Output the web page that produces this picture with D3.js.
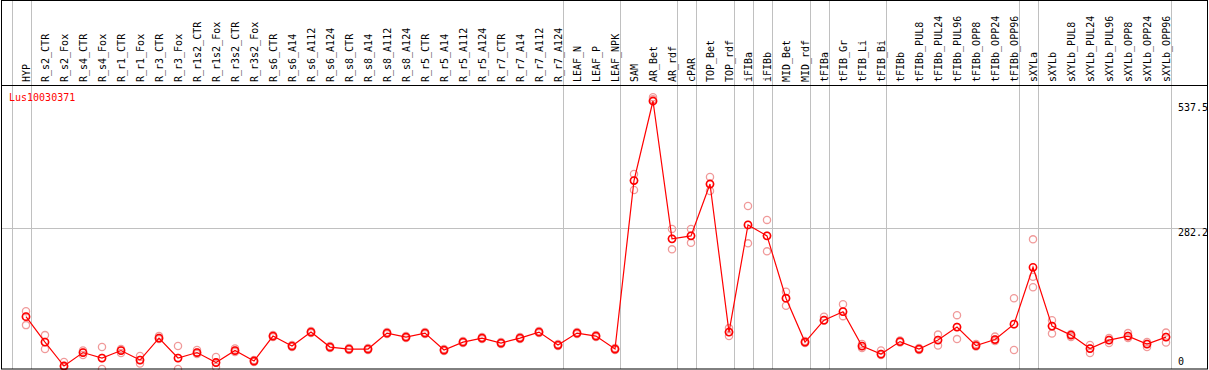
<!DOCTYPE html>
<html>
<head>
<meta charset="utf-8">
<script src="https://cdn.jsdelivr.net/npm/d3@7"></script>
<style>
  html, body { margin: 0; padding: 0; background: #fff; }
  svg { display: block; }
  text { font-family: "DejaVu Sans Mono", "Liberation Mono", monospace; font-size: 10px; }
</style>
</head>
<body>
<svg id="chart" width="1209" height="370"></svg>
<script>
const categories = ["HYP","R_s2_CTR","R_s2_Fox","R_s4_CTR","R_s4_Fox","R_r1_CTR","R_r1_Fox","R_r3_CTR","R_r3_Fox","R_r1s2_CTR","R_r1s2_Fox","R_r3s2_CTR","R_r3s2_Fox","R_s6_CTR","R_s6_A14","R_s6_A112","R_s6_A124","R_s8_CTR","R_s8_A14","R_s8_A112","R_s8_A124","R_r5_CTR","R_r5_A14","R_r5_A112","R_r5_A124","R_r7_CTR","R_r7_A14","R_r7_A112","R_r7_A124","LEAF_N","LEAF_P","LEAF_NPK","SAM","AR_Bet","AR_rdf","cPAR","TOP_Bet","TOP_rdf","iFIBa","iFIBb","MID_Bet","MID_rdf","tFIBa","tFIB_Gr","tFIB_Li","tFIB_Bi","tFIBb","tFIBb_PUL8","tFIBb_PUL24","tFIBb_PUL96","tFIBb_OPP8","tFIBb_OPP24","tFIBb_OPP96","sXYLa","sXYLb","sXYLb_PUL8","sXYLb_PUL24","sXYLb_PUL96","sXYLb_OPP8","sXYLb_OPP24","sXYLb_OPP96"];

const meanValues = [105,54,6,33,22,37,18,62,22,33,13,37,16,66,46,74,44,40,40,72,64,72,38,54,62,52,62,74,48,72,66,40,378,537.5,261,267,371,74,289,267,142,54,98,115,46,30,55,40,58,84,47,59,90,204,86,68,41,58,66,50,64];

const rep1 = [116,68,14,37,44,40,26,66,46,38,24,41,18,68,48,76,46,42,42,74,66,74,40,56,64,54,64,76,50,74,68,42,391,545,281,281,385,82,327,299,155,56,105,130,50,37,57,42,69,108,50,65,142,260,98,70,48,62,72,54,73];

const rep2 = [88,40,4,28,0,32,11,60,0,30,4,34,14,64,44,72,42,38,38,70,62,70,36,52,60,50,60,72,46,70,64,38,359,537,240,253,357,66,252,236,127,52,97,106,42,28,53,38,47,60,45,56,38,185,71,64,32,52,62,44,53];

const rep3 = [105,54,6,33,22,37,18,62,22,33,13,37,16,66,46,74,44,40,40,72,64,72,38,54,62,52,62,74,48,72,66,40,378,541,261,267,371,74,289,267,142,54,98,115,46,30,55,40,58,84,47,59,90,164,86,68,41,58,66,50,64];

const groupEnds = ["HYP","R_r7_A124","LEAF_NPK","AR_rdf","cPAR","TOP_rdf","iFIBa","iFIBb","MID_rdf","tFIBa","tFIB_Bi","tFIBb_OPP96","sXYLa","sXYLb_OPP96"];

const gridValues = [282.2];
const tickLabels = ["537.5","282.2","0"];
const tickValues = [537.5, 282.2, 0];
const geneTitle = "Lus10030371";

const W = 1209, H = 370;
const svg = d3.select("#chart");

const x = d3.scaleBand().domain(categories).range([16.5, 16.5 + 19 * categories.length]).padding(0);
const cx = d => x(d) + x.bandwidth() / 2;
const y = d3.scaleLinear().domain([0, 537.5]).range([369, 101]);

// background
svg.append("rect").attr("x", 0).attr("y", 0).attr("width", W).attr("height", H).attr("fill", "#fff");

// group separators (gray vertical lines)
const sepX = [cx(categories[0]) - 19 + 4.5].concat(groupEnds.map(c => cx(c) + 4.5));
svg.selectAll("line.sep").data(sepX).enter().append("line")
  .attr("class", "sep")
  .attr("x1", d => Math.round(d) + 0.5).attr("x2", d => Math.round(d) + 0.5)
  .attr("y1", 0).attr("y2", 369)
  .attr("stroke", "#c0c0c0").attr("stroke-width", 1);

// horizontal gridline
svg.selectAll("line.grid").data(gridValues).enter().append("line")
  .attr("class", "grid")
  .attr("x1", 1).attr("x2", 1208)
  .attr("y1", d => Math.round(y(d)) + 0.5).attr("y2", d => Math.round(y(d)) + 0.5)
  .attr("stroke", "#c0c0c0").attr("stroke-width", 1);

// header separator line
svg.append("line").attr("x1", 1).attr("x2", 1208).attr("y1", 85.5).attr("y2", 85.5)
  .attr("stroke", "#000").attr("stroke-width", 1);

// category labels (vertical)
svg.selectAll("text.cat").data(categories).enter().append("text")
  .attr("class", "cat")
  .attr("transform", d => `translate(${cx(d) + 3.8},82) rotate(-90)`)
  .attr("text-anchor", "start")
  .attr("fill", "#000")
  .text(d => d);

// y tick labels on right
svg.selectAll("text.tick").data(tickValues).enter().append("text")
  .attr("class", "tick")
  .attr("x", 1178)
  .attr("y", (d, i) => i === 0 ? y(d) + 10 : (i === 2 ? 365 : y(d) + 8))
  .attr("fill", "#000")
  .text((d, i) => tickLabels[i]);

// title
svg.append("text").attr("x", 9).attr("y", 101).attr("fill", "#ff0000").text(geneTitle);

// replicate circles (pale)
const pale = "#f09a9a";
[rep1, rep2, rep3].forEach((rep, k) => {
  svg.append("g").selectAll("circle").data(rep).enter().append("circle")
    .attr("cx", (d, i) => cx(categories[i]))
    .attr("cy", d => y(d))
    .attr("r", 3.6)
    .attr("fill", "none")
    .attr("stroke", pale)
    .attr("stroke-width", 1.3);
});

// mean line
const line = d3.line().x((d, i) => cx(categories[i])).y(d => y(d));
svg.append("path").datum(meanValues)
  .attr("d", line)
  .attr("fill", "none")
  .attr("stroke", "#ff0000")
  .attr("stroke-width", 1.2);

// mean circles
svg.append("g").selectAll("circle").data(meanValues).enter().append("circle")
  .attr("cx", (d, i) => cx(categories[i]))
  .attr("cy", d => y(d))
  .attr("r", 3.6)
  .attr("fill", "none")
  .attr("stroke", "#ff0000")
  .attr("stroke-width", 1.6);

// outer border
svg.append("rect").attr("x", 1.5).attr("y", 0.5).attr("width", 1206).attr("height", 368.5)
  .attr("fill", "none").attr("stroke", "#000").attr("stroke-width", 1);
</script>
</body>
</html>
